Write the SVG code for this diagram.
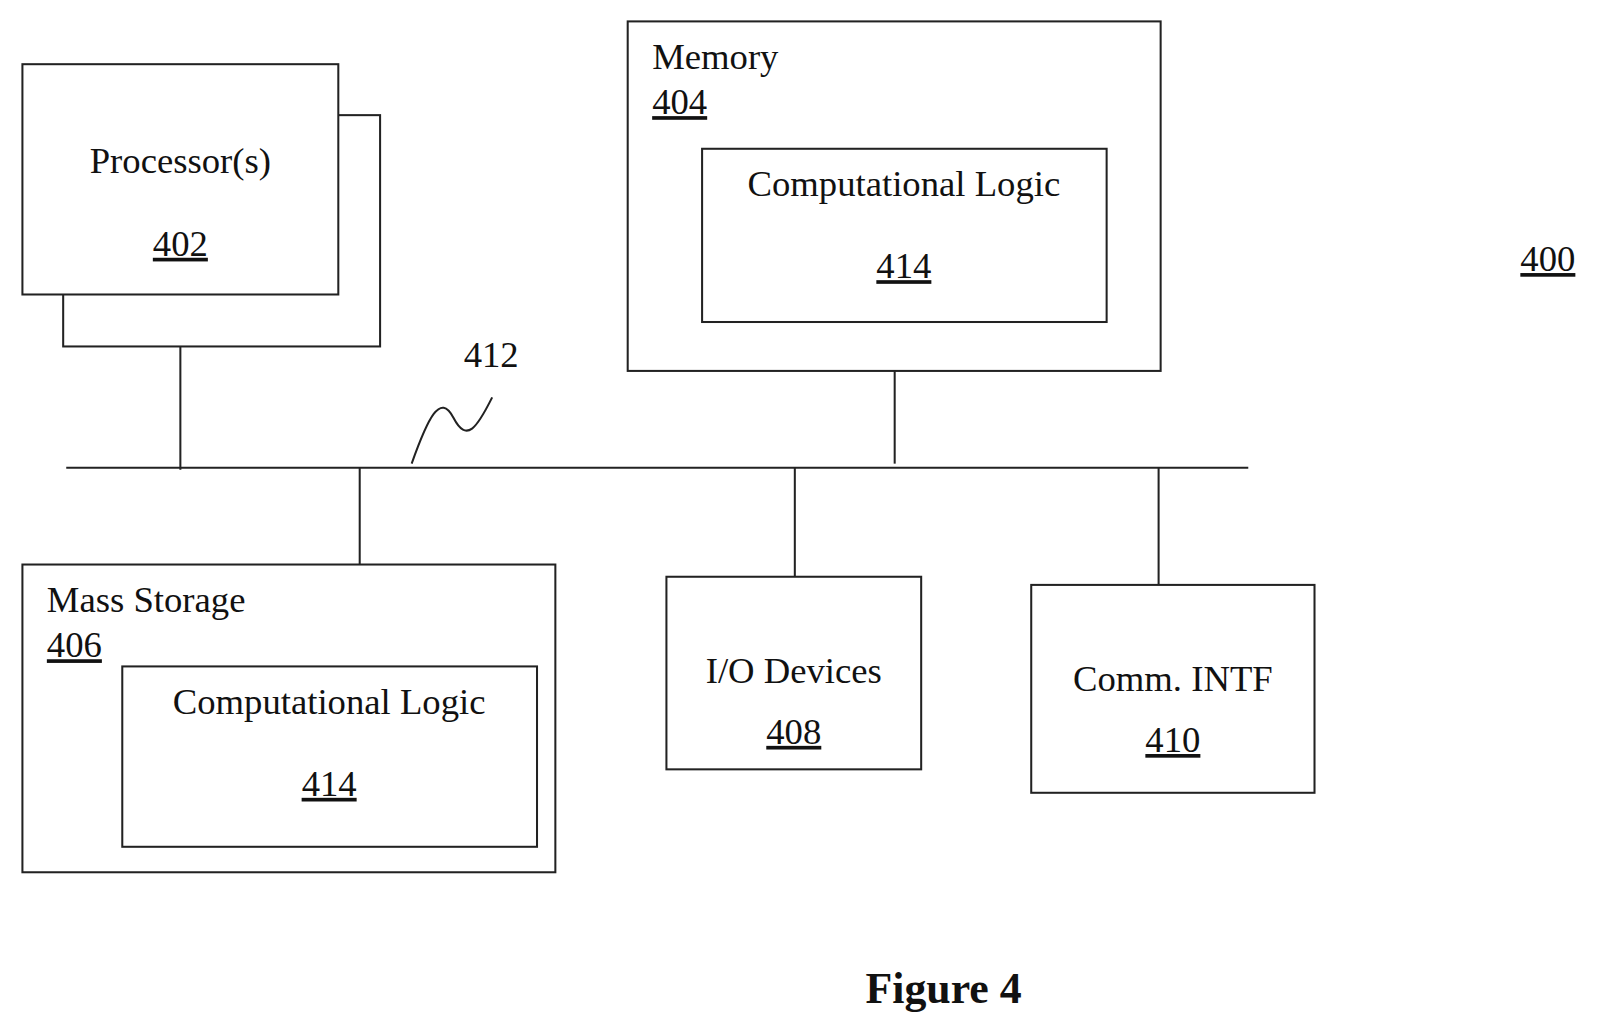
<svg xmlns="http://www.w3.org/2000/svg" width="1599" height="1034" viewBox="0 0 1599 1034">
<style>
rect{fill:#fff;stroke:#222;stroke-width:2}
line,path{stroke:#222;stroke-width:2;fill:none}
text{font-family:"Liberation Serif",serif;font-size:36px;fill:#111}
.c{text-anchor:middle}
.u{text-decoration:underline}
</style>
<rect width="1599" height="1034" style="stroke:none"/>
<g transform="scale(1.019)">
<g id="connectors">
<line x1="65" y1="459" x2="1225" y2="459"/>
<line x1="177" y1="340" x2="177" y2="461"/>
<line x1="878" y1="364" x2="878" y2="455"/>
<line x1="353" y1="459" x2="353" y2="554"/>
<line x1="780" y1="459" x2="780" y2="566"/>
<line x1="1137" y1="459" x2="1137" y2="574"/>
<path d="M404 455 C420 410 432 385 445 410 C458 435 468 420 483 390"/>
<text x="455" y="360">412</text>
</g>
<g id="processor">
<rect x="62" y="113" width="311" height="227"/>
<rect x="22" y="63" width="310" height="226"/>
<text class="c" x="177" y="170">Processor(s)</text>
<text class="c u" x="177" y="251">402</text>
</g>
<g id="memory">
<rect x="616" y="21" width="523" height="343"/>
<text x="640" y="68">Memory</text>
<text class="u" x="640" y="112">404</text>
<rect x="689" y="146" width="397" height="170"/>
<text class="c" x="887" y="192">Computational Logic</text>
<text class="c u" x="887" y="273">414</text>
</g>
<g id="label400"><text class="u" x="1492" y="266">400</text></g>
<g id="storage">
<rect x="22" y="554" width="523" height="302"/>
<text x="46" y="601">Mass Storage</text>
<text class="u" x="46" y="645">406</text>
<rect x="120" y="654" width="407" height="177"/>
<text class="c" x="323" y="701">Computational Logic</text>
<text class="c u" x="323" y="781">414</text>
</g>
<g id="io">
<rect x="654" y="566" width="250" height="189"/>
<text class="c" x="779" y="670">I/O Devices</text>
<text class="c u" x="779" y="730">408</text>
</g>
<g id="comm">
<rect x="1012" y="574" width="278" height="204"/>
<text class="c" x="1151" y="678">Comm. INTF</text>
<text class="c u" x="1151" y="738">410</text>
</g>
<text class="c" x="926" y="984" style="font-weight:bold;font-size:43px">Figure 4</text>
</g>
</svg>
